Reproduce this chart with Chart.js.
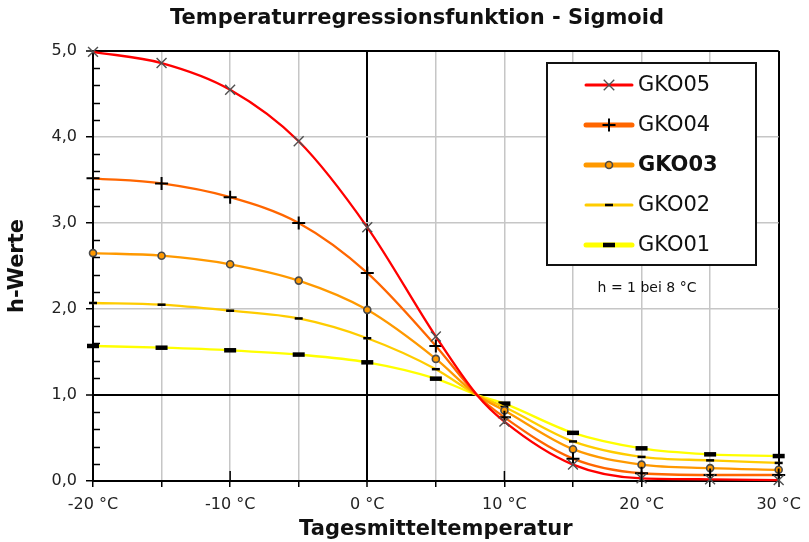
<!DOCTYPE html>
<html>
<head>
<meta charset="utf-8">
<title>Temperaturregressionsfunktion - Sigmoid</title>
<script src="https://cdn.jsdelivr.net/npm/chart.js@4/dist/chart.umd.min.js"></script>
<style>
  html, body { margin: 0; padding: 0; background: #fff; }
  #chart { display: block; }
</style>
</head>
<body>
<canvas id="chart" width="809" height="542"></canvas>
<script>
// Werte (h-Werte je Tagesmitteltemperatur)
// bei 8 °C schneiden sich alle Kurven (h = 1)
const temperaturen = [-20, -15, -10, -5, 0, 5, 8, 10, 15, 20, 25, 30];
const gko05 = [4.99, 4.86, 4.55, 3.95, 2.95, 1.68, 1.0, 0.69, 0.19, 0.03, 0.02, 0.01];
const gko04 = [3.52, 3.46, 3.30, 3.00, 2.42, 1.57, 1.0, 0.74, 0.26, 0.09, 0.07, 0.07];
const gko03 = [2.65, 2.62, 2.52, 2.33, 1.99, 1.42, 1.0, 0.82, 0.37, 0.19, 0.15, 0.13];
const gko02 = [2.07, 2.05, 1.98, 1.89, 1.66, 1.30, 1.0, 0.86, 0.46, 0.28, 0.24, 0.21];
const gko01 = [1.57, 1.55, 1.52, 1.47, 1.38, 1.19, 1.0, 0.90, 0.56, 0.38, 0.31, 0.29];

const serienNamen = ['GKO05', 'GKO04', 'GKO03', 'GKO02', 'GKO01'];
const serienWerte = [gko05, gko04, gko03, gko02, gko01];
const xBeschriftung = ['-20 °C', '-10 °C', '0 °C', '10 °C', '20 °C', '30 °C'];
const hinweis = 'h = 1 bei 8 °C';

// Darstellung je Kurve
const stile = [
    { farbe: '#ff0000', punkt: 'crossRot', radius: 7, rand: '#505050', fuell: '#505050', bw: 1.4, legLinie: 3 },
    { farbe: '#ff6600', punkt: 'cross', radius: 6.5, rand: '#000000', fuell: '#000000', bw: 2, legLinie: 5 },
    { farbe: '#ff9900', punkt: 'circle', radius: 3.5, rand: '#4a4a4a', fuell: '#ff9900', bw: 1.6, legLinie: 5 },
    { farbe: '#ffcc00', punkt: 'line', radius: 4, rand: '#000000', fuell: '#000000', bw: 2.5, legLinie: 3 },
    { farbe: '#ffff00', punkt: 'line', radius: 6, rand: '#000000', fuell: '#000000', bw: 4.5, legLinie: 5 }
];

Chart.defaults.font.family = '"DejaVu Sans", sans-serif';
Chart.defaults.color = '#222';

const datasets = serienNamen.map((name, i) => ({
    label: name,
    data: temperaturen.map((t, j) => ({ x: t, y: serienWerte[i][j] })),
    borderColor: stile[i].farbe,
    borderWidth: 2.3,
    cubicInterpolationMode: 'monotone',
    pointStyle: stile[i].punkt,
    pointRadius: ctx => (ctx.raw && ctx.raw.x % 5 === 0) ? stile[i].radius : 0,
    pointHoverRadius: 0,
    pointBorderColor: stile[i].rand,
    pointBackgroundColor: stile[i].fuell,
    pointBorderWidth: stile[i].bw,
    clip: false
}));

// x-Beschriftung nur alle 10 °C
function xLabel(v) {
    const n = Math.round(v);
    if (n % 10 !== 0) return '';
    return xBeschriftung[(n + 20) / 10] || '';
}

// Marker fuer die Legende zeichnen
function zeichneMarker(ctx, s, x, y) {
    ctx.save();
    ctx.strokeStyle = s.rand;
    ctx.fillStyle = s.fuell;
    ctx.lineWidth = s.bw;
    ctx.beginPath();
    const r = s.radius;
    if (s.punkt === 'crossRot') {
        const d = r * 0.75;
        ctx.moveTo(x - d, y - d); ctx.lineTo(x + d, y + d);
        ctx.moveTo(x - d, y + d); ctx.lineTo(x + d, y - d);
        ctx.stroke();
    } else if (s.punkt === 'cross') {
        ctx.moveTo(x - r, y); ctx.lineTo(x + r, y);
        ctx.moveTo(x, y - r); ctx.lineTo(x, y + r);
        ctx.stroke();
    } else if (s.punkt === 'circle') {
        ctx.arc(x, y, r, 0, Math.PI * 2);
        ctx.fill();
        ctx.stroke();
    } else {
        ctx.moveTo(x - r, y); ctx.lineTo(x + r, y);
        ctx.stroke();
    }
    ctx.restore();
}

const extras = {
    id: 'extras',
    afterDraw(chart) {
        const ctx = chart.ctx;
        const xs = chart.scales.x, ys = chart.scales.y;
        const area = chart.chartArea;

        // kleine Teilstriche der y-Achse (nach innen)
        ctx.save();
        ctx.strokeStyle = '#000';
        ctx.lineWidth = 1.5;
        for (let k = 1; k < 25; k++) {
            if (k % 5 === 0) continue;
            const py = Math.round(ys.getPixelForValue(k / 5)) + 0.5;
            ctx.beginPath();
            ctx.moveTo(area.left, py);
            ctx.lineTo(area.left + 7, py);
            ctx.stroke();
        }
        // Hauptstriche der x-Achse nach innen
        [-10, 10, 20].forEach(v => {
            const px = xs.getPixelForValue(v);
            ctx.beginPath();
            ctx.moveTo(px, area.bottom);
            ctx.lineTo(px, area.bottom - 10);
            ctx.stroke();
        });
        ctx.restore();

        // Titel
        ctx.save();
        ctx.fillStyle = '#111';
        ctx.font = 'bold 21px "DejaVu Sans"';
        ctx.textAlign = 'center';
        ctx.textBaseline = 'middle';
        ctx.fillText('Temperaturregressionsfunktion - Sigmoid', 417, 19);
        ctx.restore();

        // Legende
        const box = { l: 547, t: 63, r: 756, b: 265 };
        ctx.save();
        ctx.fillStyle = '#fff';
        ctx.fillRect(box.l, box.t, box.r - box.l, box.b - box.t);
        ctx.strokeStyle = '#111';
        ctx.lineWidth = 2;
        ctx.strokeRect(box.l, box.t, box.r - box.l, box.b - box.t);
        chart.data.datasets.forEach((ds, i) => {
            const y = 85 + i * 40;
            const s = stile[i];
            ctx.strokeStyle = s.farbe;
            ctx.lineWidth = s.legLinie;
            ctx.lineCap = 'round';
            ctx.beginPath();
            ctx.moveTo(586, y);
            ctx.lineTo(632, y);
            ctx.stroke();
            ctx.lineCap = 'butt';
            zeichneMarker(ctx, s, 609, y);
            ctx.fillStyle = '#111';
            ctx.font = (i === 2 ? 'bold ' : '') + '21px "DejaVu Sans"';
            ctx.textAlign = 'left';
            ctx.textBaseline = 'middle';
            ctx.fillText(ds.label, 638, y + 1);
        });
        ctx.restore();

        // Hinweis
        ctx.save();
        ctx.fillStyle = '#111';
        ctx.font = '14px "DejaVu Sans"';
        ctx.textAlign = 'center';
        ctx.textBaseline = 'middle';
        ctx.fillText(hinweis, 647, 288);
        ctx.restore();
    }
};

new Chart(document.getElementById('chart'), {
    type: 'line',
    data: { datasets: datasets },
    options: {
        responsive: false,
        animation: false,
        events: [],
        layout: { padding: { top: 51, right: 26, left: 0, bottom: 0 } },
        plugins: {
            legend: { display: false },
            title: { display: false },
            tooltip: { enabled: false }
        },
        scales: {
            x: {
                type: 'linear',
                min: -20,
                max: 30,
                afterFit: s => { s.height = 61; },
                ticks: {
                    stepSize: 5,
                    autoSkip: false,
                    maxRotation: 0,
                    padding: 8,
                    font: { size: 16 },
                    callback: v => xLabel(v)
                },
                grid: {
                    color: c => (c.tick && (c.tick.value === 0 || c.tick.value === 30 || c.tick.value === -20)) ? '#000' : '#c6c6c6',
                    lineWidth: c => (c.tick && (c.tick.value === 0 || c.tick.value === 30)) ? 2 : 1.5,
                    tickColor: '#000',
                    tickLength: 6,
                    tickWidth: 1.5
                },
                border: { display: true, color: '#000', width: 2 },
                title: {
                    display: true,
                    text: 'Tagesmitteltemperatur',
                    color: '#111',
                    font: { size: 21, weight: 'bold' },
                    padding: { top: 0, bottom: 0 }
                }
            },
            y: {
                min: 0,
                max: 5,
                afterFit: s => { s.width = 93; },
                ticks: {
                    stepSize: 1,
                    padding: 9,
                    font: { size: 16 },
                    callback: v => v.toFixed(1).replace('.', ',')
                },
                grid: {
                    color: c => (c.tick && (c.tick.value === 1 || c.tick.value === 5 || c.tick.value === 0)) ? '#000' : '#c6c6c6',
                    lineWidth: c => (c.tick && (c.tick.value === 1 || c.tick.value === 5)) ? 2 : 1.5,
                    tickColor: '#000',
                    tickLength: 7,
                    tickWidth: 1.5
                },
                border: { display: true, color: '#000', width: 2 },
                title: {
                    display: true,
                    text: 'h-Werte',
                    color: '#111',
                    font: { size: 21, weight: 'bold' },
                    padding: { top: 5, bottom: 0 }
                }
            }
        }
    },
    plugins: [extras]
});
</script>
</body>
</html>
